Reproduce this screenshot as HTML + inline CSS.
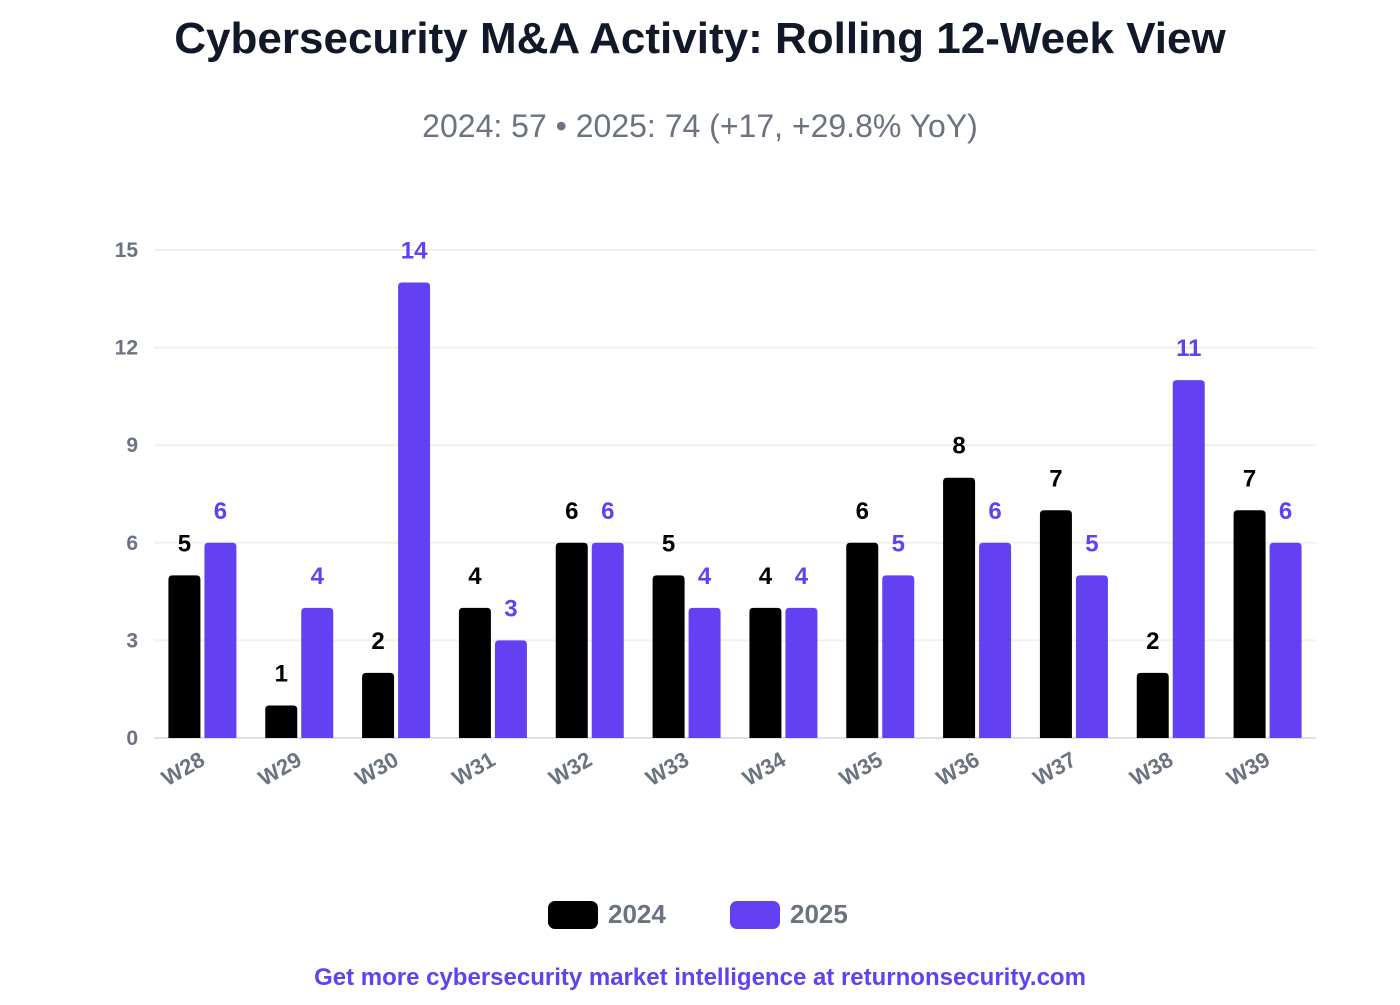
<!DOCTYPE html>
<html><head><meta charset="utf-8"><style>
body{margin:0;background:#fff;font-family:"Liberation Sans",Arial,sans-serif}
</style></head><body>
<svg width="1400" height="1000" xmlns="http://www.w3.org/2000/svg">
<text x="700" y="53" text-anchor="middle" font-size="44" font-weight="bold" fill="#111827">Cybersecurity M&amp;A Activity: Rolling 12-Week View</text>
<text x="700" y="137" text-anchor="middle" font-size="32" fill="#6b7280">2024: 57 • 2025: 74 (+17, +29.8% YoY)</text>
<g id="grid"></g>
<g id="bars"></g>
<g id="legend">
<rect x="548" y="901" width="50" height="28" rx="7" fill="#000"/>
<text x="608" y="923" font-size="26" font-weight="bold" fill="#6b7280">2024</text>
<rect x="730" y="901" width="50" height="28" rx="7" fill="#6340f2"/>
<text x="790" y="923" font-size="26" font-weight="bold" fill="#6b7280">2025</text>
</g>
<text x="700" y="985" text-anchor="middle" font-size="24" font-weight="bold" fill="#6340f2">Get more cybersecurity market intelligence at returnonsecurity.com</text>
</svg>
<script>
const categories=["W28","W29","W30","W31","W32","W33","W34","W35","W36","W37","W38","W39"];
const values2024=[5,1,2,4,6,5,4,6,8,7,2,7];
const values2025=[6,4,14,3,6,4,4,5,6,5,11,6];
const yTicks=[0,3,6,9,12,15];
const NS="http://www.w3.org/2000/svg";
const X0=154,X1=1316,Y0=738,Y1=250,YMAX=15;
const step=(X1-X0)/categories.length;
function y(v){return Y0-(v/YMAX)*(Y0-Y1);}
function xc(i){return X0+step*(i+0.5);}
function mk(t,a,p,txt){const e=document.createElementNS(NS,t);for(const k in a)e.setAttribute(k,a[k]);if(txt!=null)e.textContent=txt;p.appendChild(e);return e;}
const grid=document.getElementById('grid'),bars=document.getElementById('bars');
yTicks.forEach(t=>{
 const l=mk('line',{x1:X0,x2:X1,y1:y(t),y2:y(t),stroke:t===0?'#e0e0e6':'#f0f0f2','stroke-width':2},grid);
 
 
 const tx=mk('text',{x:138,y:y(t)+7,'text-anchor':'end','font-size':21,'font-weight':'bold',fill:'#6b7280'},grid,t);
 
 
});
const bw=32,gap=4;
categories.forEach((c,i)=>{
 const cx=xc(i);
 [[values2024[i],'#000',cx-gap/2-bw],[values2025[i],'#6340f2',cx+gap/2]].forEach(([v,col,x],k)=>{
  const p=mk('path',{d:`M${x},${Y0}V${y(v)+4}Q${x},${y(v)} ${x+4},${y(v)}H${x+bw-4}Q${x+bw},${y(v)} ${x+bw},${y(v)+4}V${Y0}Z`,fill:col},bars);
  
  
  const t=mk('text',{x:x+bw/2,y:y(v)-24,'text-anchor':'middle','font-size':24,'font-weight':'bold',fill:col},bars,v);
  
  
 });
 const lx=cx+4,ly=Y0+26;
 const tl=mk('text',{x:lx,y:ly,'text-anchor':'end','font-size':22,'font-weight':'bold',fill:'#6b7280',transform:`rotate(-30 ${lx} ${ly})`},bars,c);
 
 
});
</script>
</body></html>
